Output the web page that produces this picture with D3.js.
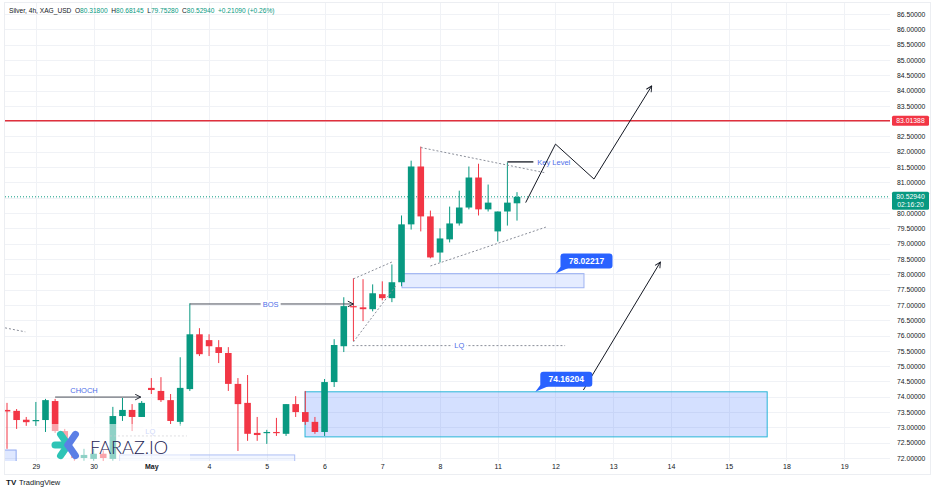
<!DOCTYPE html>
<html>
<head>
<meta charset="utf-8">
<script src="https://cdn.jsdelivr.net/npm/d3@7"></script>
<style>
  html, body { margin: 0; padding: 0; background: #fff; }
  svg { display: block; font-family: "Liberation Sans", Arial, sans-serif; }
  .axis text { fill: #131722; }
  .axis path, .axis line { display: none; }
</style>
</head>
<body>
<div id="graph-container"></div>
<script>

/////////////////////////////////////////////////////////////////////////////
                      ///////    Data    ///////
/////////////////////////////////////////////////////////////////////////////

// 4h candles, index 0 = first visible bar
var opens  = [73.57,73.54,73.25,73.21,73.24,73.86,72.88,72.14,72.00,71.97,72.14,71.97,73.37,73.57,73.34,74.29,74.19,73.89,73.18,74.25,
              76.04,75.85,75.62,75.43,74.42,73.80,72.82,72.82,72.85,72.79,73.76,73.50,73.18,72.85,74.48,75.65,76.96,76.92,76.86,77.35,
              77.22,77.74,79.63,81.52,79.89,78.71,79.14,79.66,80.18,81.16,80.12,79.40,80.05,80.318];
var highs  = [73.80,73.60,73.34,73.83,73.93,73.93,72.95,72.23,72.30,72.30,72.25,73.67,73.96,73.76,73.86,74.61,74.64,74.09,75.29,77.05,
              76.24,76.04,75.85,75.62,74.61,74.71,73.34,72.92,73.31,73.76,74.02,74.19,73.34,74.58,75.88,77.25,77.87,77.84,77.67,77.77,
              78.32,79.92,81.71,82.17,80.08,79.50,80.21,80.73,81.52,81.61,80.93,80.05,81.65,80.68145];
var lows   = [72.30,72.95,73.05,73.05,72.85,72.82,72.10,71.91,71.91,71.91,71.90,71.91,73.21,72.88,73.34,74.09,73.83,73.11,73.05,74.19,
              75.33,75.33,75.10,74.19,72.23,72.56,72.56,72.46,72.72,72.72,73.34,73.08,72.79,72.72,74.32,75.46,75.82,76.47,76.79,77.15,
              77.09,77.61,79.46,79.40,78.52,78.39,79.04,79.59,80.12,79.92,80.05,79.07,79.59,79.7528];
var closes = [73.52,73.24,73.17,73.24,73.89,72.88,72.23,72.00,72.10,72.14,72.00,73.37,73.57,73.34,73.80,74.22,73.89,73.21,74.29,76.04,
              75.39,75.65,75.43,74.42,73.76,72.79,72.75,72.85,72.82,73.76,73.50,73.18,72.85,74.48,75.69,76.96,76.92,76.86,77.38,77.22,
              77.74,79.63,81.52,79.89,78.55,79.17,79.66,80.18,81.16,80.12,80.34,80.05,80.34,80.5294];

var day_ticks  = [3, 9, 15, 21, 27, 33, 39, 45, 51, 57, 63, 69, 75, 81, 87];
var day_labels = ['29', '30', 'May', '4', '5', '6', '7', '8', '11', '12', '13', '14', '15', '18', '19'];

var price_ticks = d3.range(72, 86.51, 0.5);

var red_level = 83.01388;
var last_price = 80.5294;
var countdown = '02:16:20';

var header_parts = [['Silver, 4h, XAG_USD  ', '#131722'], ['O', '#131722'], ['80.31800  ', '#089981'],
                    ['H', '#131722'], ['80.68145  ', '#089981'], ['L', '#131722'], ['79.75280  ', '#089981'],
                    ['C', '#131722'], ['80.52940  ', '#089981'], ['+0.21090 (+0.26%)', '#089981']];

// drawings, in [bar index, price]
var choch_line = [[5, 73.99], [13.9, 73.99]];
var bos_line   = [[19, 77.03], [36, 77.03]];
var lq_line    = [[35.9, 75.67], [58, 75.67]];
var lq_line_2  = [[10.7, 72.72], [18.7, 72.72]];
var flag_top   = [[36, 77.85], [40, 78.40]];
var flag_bot   = [[36, 75.79], [40.4, 77.62]];
var tri_top    = [[43, 82.14], [56, 81.31]];
var tri_bot    = [[44, 78.27], [56, 79.54]];
var old_dash   = [[-0.2, 76.25], [1.9, 76.12]];
var key_level  = [[52, 81.67], [54.7, 81.67]];
var zigzag     = [[53.9, 80.34], [57, 82.25], [61, 81.11], [67, 84.15]];
var long_arrow = [[59.9, 74.22], [67.9, 78.40]];

var zone_upper = {x0: 41.05, x1: 59.96, p0: 78.02217, p1: 77.56};
var zone_lower = {x0: 30.97, x1: 79.0, p0: 74.16204, p1: 72.69};
var zone_old_a = {x0: -1, x1: 0.95, p0: 72.26, p1: 71.5};
var zone_old_b = {x0: 11.7, x1: 29.9, p0: 72.10, p1: 71.5};

var callouts = [{i: 57.0, p: 78.02217, text: '78.02217'}, {i: 54.9, p: 74.16204, text: '74.16204'}];

/////////////////////////////////////////////////////////////////////////////
                      ///////    Set Up Chart    ///////
/////////////////////////////////////////////////////////////////////////////

var W = 936, H = 492;
var plot = {left: 5, right: 890, top: 3, bottom: 461};

var green = '#089981', red = '#f23645', blue = '#2962ff';

var candles = opens.map((o, i) => ({i: i, o: o, h: highs[i], l: lows[i], c: closes[i]}));

var svg = d3.select('#graph-container').append('svg').attr('width', W).attr('height', H);

var x = d3.scaleLinear().domain([0, 53]).range([7, 517]);
var y = d3.scaleLinear().domain([72, 86.5]).range([458, 14]);
var line = d3.line().x(d => x(d[0])).y(d => y(d[1]));

svg.append('defs').append('clipPath').attr('id', 'plot-clip')
   .append('rect').attr('x', plot.left).attr('y', plot.top)
   .attr('width', plot.right - plot.left).attr('height', plot.bottom - plot.top);

svg.append('defs').append('marker').attr('id', 'arrow')
   .attr('viewBox', '0 0 10 10').attr('refX', 9).attr('refY', 5)
   .attr('markerWidth', 7).attr('markerHeight', 7).attr('orient', 'auto')
   .append('path').attr('d', 'M1,1 L9,5 L1,9').attr('fill', 'none').attr('stroke', '#131722').attr('stroke-width', 1.3);

// frame
svg.append('rect').attr('x', 4.5).attr('y', 2.5).attr('width', 926).attr('height', 472)
   .attr('fill', 'none').attr('stroke', '#eceef2');

var g = svg.append('g').attr('clip-path', 'url(#plot-clip)');

// grid
g.append('g').selectAll('line').data(price_ticks).enter().append('line')
 .attr('x1', plot.left).attr('x2', plot.right)
 .attr('y1', d => Math.round(y(d)) + 0.5).attr('y2', d => Math.round(y(d)) + 0.5)
 .attr('stroke', '#f0f2f6');
g.append('g').selectAll('line').data(day_ticks).enter().append('line')
 .attr('y1', plot.top).attr('y2', plot.bottom)
 .attr('x1', d => Math.round(x(d)) + 0.5).attr('x2', d => Math.round(x(d)) + 0.5)
 .attr('stroke', '#f0f2f6');

// zones
function zone(z, fill, stroke) {
    g.append('rect')
     .attr('x', x(z.x0)).attr('y', y(z.p0))
     .attr('width', x(z.x1) - x(z.x0)).attr('height', y(z.p1) - y(z.p0))
     .attr('fill', fill).attr('stroke', stroke).attr('stroke-width', 1);
}
zone(zone_lower, 'rgba(41,98,255,0.2)', '#29b6d8');
zone(zone_upper, 'rgba(41,98,255,0.12)', '#9fb3f2');
zone(zone_old_a, 'rgba(41,98,255,0.15)', '#8fa8f0');
zone(zone_old_b, 'rgba(41,98,255,0.06)', '#aebff5');

// horizontal levels
g.append('line').attr('x1', plot.left).attr('x2', plot.right)
 .attr('y1', y(red_level)).attr('y2', y(red_level))
 .attr('stroke', '#e0303c').attr('stroke-width', 1.5);
g.append('line').attr('x1', plot.left).attr('x2', plot.right)
 .attr('y1', y(last_price)).attr('y2', y(last_price))
 .attr('stroke', green).attr('stroke-width', 1).attr('stroke-dasharray', '1,2');

// candles
var candle_w = 6.6;
var col = d => d.c >= d.o ? green : red;
var cg = g.append('g');
cg.selectAll('.wick').data(candles).enter().append('line')
  .attr('class', 'wick')
  .attr('x1', d => x(d.i)).attr('x2', d => x(d.i))
  .attr('y1', d => y(d.h)).attr('y2', d => y(d.l))
  .attr('stroke', col).attr('stroke-width', 1);
cg.selectAll('.body').data(candles).enter().append('rect')
  .attr('class', 'body')
  .attr('x', d => x(d.i) - candle_w / 2).attr('width', candle_w)
  .attr('y', d => y(Math.max(d.o, d.c)))
  .attr('height', d => Math.max(1.2, Math.abs(y(d.o) - y(d.c))))
  .attr('fill', col);

// dashed pattern lines
[flag_top, flag_bot, tri_top, tri_bot, old_dash].forEach(seg => {
    g.append('path').attr('d', line(seg)).attr('fill', 'none')
     .attr('stroke', '#8a8e99').attr('stroke-width', 1).attr('stroke-dasharray', '2,2');
});

// CHOCH / BOS / LQ
var choch = g.append('g');
choch.append('path').attr('d', line(choch_line)).attr('fill', 'none').attr('stroke', '#4a4e59')
     .attr('stroke-width', 1).attr('marker-end', 'url(#arrow)');
choch.append('text').attr('x', x(8)).attr('y', y(choch_line[0][1]) - 4)
     .attr('text-anchor', 'middle').attr('font-size', 7.5).attr('fill', '#4f6fe8').text('CHOCH');

var bos = g.append('g');
bos.append('path').attr('d', line(bos_line)).attr('fill', 'none').attr('stroke', '#4a4e59')
   .attr('stroke-width', 1).attr('marker-end', 'url(#arrow)');
bos.append('rect').attr('x', x(27.4) - 10).attr('y', y(bos_line[0][1]) - 4).attr('width', 20).attr('height', 8).attr('fill', '#fff');
bos.append('text').attr('x', x(27.4)).attr('y', y(bos_line[0][1])).attr('dy', '0.35em')
   .attr('text-anchor', 'middle').attr('font-size', 7.5).attr('fill', '#4f6fe8').text('BOS');

[[lq_line, 47, 1, 0], [lq_line_2, 14.9, 0.6, -5]].forEach(item => {
    var seg = item[0], grp = g.append('g').attr('opacity', item[2]);
    grp.append('path').attr('d', line(seg)).attr('fill', 'none').attr('stroke', '#8a8e99')
       .attr('stroke-width', 1).attr('stroke-dasharray', '2,2');
    grp.append('rect').attr('x', x(item[1]) - 7).attr('y', y(seg[0][1]) - 4 + item[3]).attr('width', 14).attr('height', 8).attr('fill', '#fff');
    grp.append('text').attr('x', x(item[1])).attr('y', y(seg[0][1]) + item[3]).attr('dy', '0.35em')
       .attr('text-anchor', 'middle').attr('font-size', 7.5).attr('fill', '#4f6fe8').text('LQ');
});

// key level
g.append('path').attr('d', line(key_level)).attr('stroke', '#131722').attr('stroke-width', 1.3);
g.append('text').attr('x', x(key_level[1][0]) + 4).attr('y', y(key_level[0][1])).attr('dy', '0.35em')
 .attr('font-size', 7.5).attr('fill', '#4f6fe8').text('Key Level');

// projected paths
g.append('path').attr('d', line(zigzag)).attr('fill', 'none').attr('stroke', '#131722')
 .attr('stroke-width', 1).attr('marker-end', 'url(#arrow)');
g.append('path').attr('d', line(long_arrow)).attr('fill', 'none').attr('stroke', '#131722')
 .attr('stroke-width', 1).attr('marker-end', 'url(#arrow)');

// callouts
callouts.forEach(c => {
    var ax = x(c.i), ay = y(c.p);
    var cw = 52, ch = 15;
    var grp = g.append('g');
    grp.append('path').attr('d', `M${ax},${ay} L${ax + 6},${ay - 8} L${ax + 14},${ay - 6} Z`).attr('fill', blue);
    grp.append('rect').attr('x', ax + 5).attr('y', ay - 20).attr('width', cw).attr('height', ch).attr('rx', 3).attr('fill', blue);
    grp.append('text').attr('x', ax + 5 + cw / 2).attr('y', ay - 20 + ch / 2).attr('dy', '0.35em')
       .attr('text-anchor', 'middle').attr('font-size', 8.5).attr('font-weight', 'bold').attr('fill', '#fff').text(c.text);
});

// watermark logo
var logo = svg.append('g');
logo.append('rect').attr('x', 50).attr('y', 424).attr('width', 140).attr('height', 37).attr('fill', '#fff').attr('opacity', 0.55);
var arms = [[180, '#2ec4b6'], [125, '#2ec4b6'], [235, '#2ec4b6'], [55, '#5b7fe6'], [305, '#5b7fe6']];
logo.selectAll('.arm').data(arms).enter().append('line')
    .attr('x1', 68).attr('y1', 445)
    .attr('x2', d => 68 + 13 * Math.cos(d[0] * Math.PI / 180))
    .attr('y2', d => 445 - 13 * Math.sin(d[0] * Math.PI / 180))
    .attr('stroke', d => d[1]).attr('stroke-width', 7).attr('stroke-linecap', 'round');
logo.append('text').attr('x', 90).attr('y', 454).attr('font-size', 18).attr('font-weight', 300)
    .attr('font-family', 'Lato, "Open Sans", sans-serif').attr('fill', '#1c2252')
    .attr('textLength', 78).attr('lengthAdjust', 'spacingAndGlyphs').text('FARAZ.IO');

/////////////////////////////////////////////////////////////////////////////
                      ///////    Axes    ///////
/////////////////////////////////////////////////////////////////////////////

var y_axis = d3.axisRight(y).tickValues(price_ticks).tickFormat(d3.format('.5f')).tickSize(0).tickPadding(7);
svg.append('g').attr('class', 'axis').attr('transform', `translate(${plot.right},0)`)
   .call(y_axis).selectAll('text').attr('font-size', 6.8).attr('font-family', 'inherit');

var x_axis = d3.axisBottom(x).tickValues(day_ticks).tickFormat((d, i) => day_labels[i]).tickSize(0).tickPadding(3);
svg.append('g').attr('class', 'axis').attr('transform', `translate(0,${plot.bottom})`)
   .call(x_axis).selectAll('text').attr('font-size', 7).attr('font-family', 'inherit')
   .attr('font-weight', (d, i) => day_labels[i] === 'May' ? 'bold' : 'normal');

// price labels on the scale
function price_tag(p, fill, lines) {
    var h = lines.length * 8 + 2;
    var grp = svg.append('g');
    grp.append('rect').attr('x', plot.right + 2).attr('y', y(p) - 5).attr('width', 37).attr('height', h).attr('rx', 1.5).attr('fill', fill);
    lines.forEach((t, k) => {
        grp.append('text').attr('x', plot.right + 20.5).attr('y', y(p) + k * 8).attr('dy', '0.35em')
           .attr('text-anchor', 'middle').attr('font-size', 6.8).attr('fill', '#fff').text(t);
    });
}
price_tag(red_level, '#f23645', [d3.format('.5f')(red_level)]);
price_tag(last_price, green, [d3.format('.5f')(last_price), countdown]);

// header
var header = svg.append('text').attr('x', 9).attr('y', 13).attr('font-size', 6.6).attr('style', 'white-space: pre');
header_parts.forEach(p => header.append('tspan').attr('fill', p[1]).text(p[0]));

// footer
svg.append('line').attr('x1', 4.5).attr('x2', 930.5).attr('y1', 474.5).attr('y2', 474.5).attr('stroke', '#eceef2');
svg.append('text').attr('x', 6).attr('y', 485).attr('font-size', 8).attr('font-weight', 'bold').attr('fill', '#131722').text('TV');
svg.append('text').attr('x', 19).attr('y', 485).attr('font-size', 7.5).attr('fill', '#131722').text('TradingView');

</script>
</body>
</html>
